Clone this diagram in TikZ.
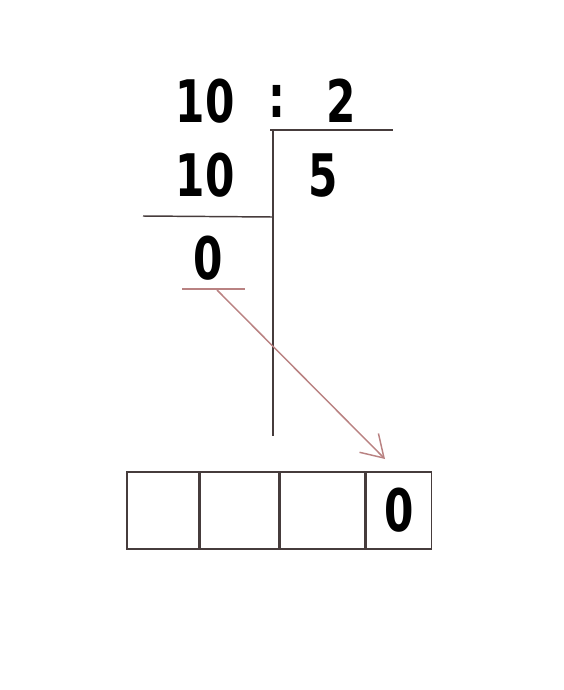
\documentclass[tikz,border=0pt]{standalone}
\usepackage{fontspec}
\setmainfont{DejaVu Sans}
\newfontfamily\handfont[FakeStretch=0.72]{DejaVu Sans}
\usetikzlibrary{positioning, arrows.meta}
\definecolor{penline}{RGB}{70,60,60}
\definecolor{redpen}{RGB}{185,130,130}

\begin{document}
\begin{tikzpicture}[x=0.75pt, y=-0.75pt,
        digit/.style={font=\handfont\fontsize{44}{48}\selectfont\bfseries, inner sep=0pt},
        cell/.style={draw=penline, line width=1.1pt, minimum height=57.75pt, inner sep=0pt}]
        \useasboundingbox (0,0) rectangle (564,690);

        % numbers of the division
        \node (dividend) [digit] at (205,101) {10};
        \node (colon) [digit] at (277,101) {:};
        \node (divisor) [digit] at (341,101) {2};
        \node (sub) [digit] at (205,175) {10};
        \node (quot) [digit] at (323,176) {5};
        \node (rest) [digit] at (208,258) {0};

        % lines of the division
        \coordinate (topL) at (270,130);
        \coordinate (topR) at (393,130);
        \coordinate (vtop) at (273,130);
        \coordinate (vbot) at (273,436);
        \coordinate (midL) at (143,216);
        \coordinate (midR) at (273,217);
        \draw[penline, line width=1.1pt] (topL) -- (topR);
        \draw[penline, line width=1.1pt] (vtop) -- (vbot);
        \draw[penline, line width=1.1pt] (midL) -- (midR);

        % underline of the rest
        \coordinate (uL) at (182,289);
        \coordinate (uR) at (245,289);
        \draw[redpen, line width=1.5pt] (uL) -- (uR);

        % digit cells
        \node (c1) [cell, minimum width=54pt] at (163,510.5) {};
        \node (c2) [cell, minimum width=58.5pt, right=0pt of c1] {};
        \node (c3) [cell, minimum width=63.75pt, right=0pt of c2] {};
        \node (c4) [cell, minimum width=48.75pt, right=0pt of c3] {};
        \node (last) [digit] at (c4) {0};

        % carrying the rest down
        \coordinate (start) at (217,290);
        \coordinate (tip) at (385,459);
        \draw[redpen, line width=1.1pt, -{Straight Barb[length=16pt, width=20pt]}] (start) -- (tip);
\end{tikzpicture}
\end{document}
